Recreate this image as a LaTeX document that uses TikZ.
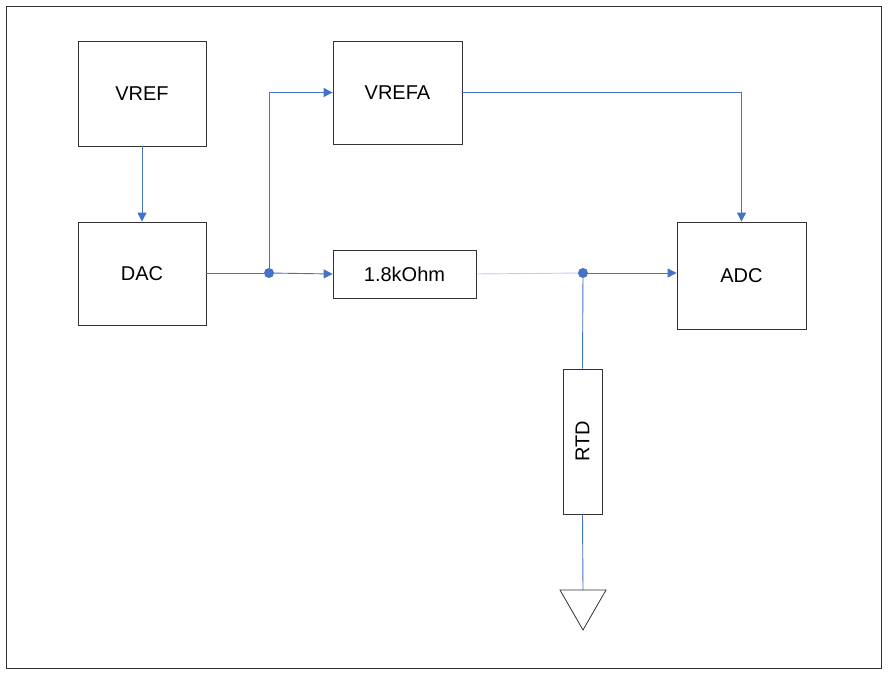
\documentclass[tikz,border=0pt]{standalone}
\usepackage{fontspec}
\setmainfont{Liberation Sans}
\usetikzlibrary{arrows.meta}
\begin{document}
\begin{tikzpicture}[x=1pt,y=-1pt,
  box/.style={draw=black!80,line width=0.8pt,inner sep=0pt,font=\fontsize{20}{22}\selectfont},
  wire/.style={draw={rgb,255:red,68;green,114;blue,196},line width=0.9pt},
  arr/.style={wire,-{Triangle[length=9pt,width=9pt]}},
  dot/.style={circle,fill={rgb,255:red,68;green,114;blue,196},inner sep=0pt,minimum size=10pt}]
\useasboundingbox (0,0) rectangle (889,677);
\draw[black!80,line width=0.8pt] (6,6) rectangle (881,668);
\node[box,minimum width=128pt,minimum height=105pt] (vref) at (142,93.5) {VREF};
\node[box,minimum width=128pt,minimum height=103pt] (dac) at (142,273.5) {DAC};
\node[box,minimum width=129pt,minimum height=103pt] (vrefa) at (397.5,92.5) {VREFA};
\node[box,minimum width=143pt,minimum height=48pt] (res) at (404.5,274) {1.8kOhm};
\node[box,minimum width=129pt,minimum height=107pt] (adc) at (741.5,275.5) {ADC};
\node[box,minimum width=145pt,minimum height=39pt,rotate=90] (rtd) at (582.5,441.5) {RTD};
\node[dot] (d1) at (269,273) {};
\node[dot] (d2) at (583,273) {};
\coordinate (g) at (583,590);
\draw[arr] (vref.south) -- (dac.north);
\draw[wire] (dac.east |- d1) -- (d1);
\draw[arr] (d1) -- (res.west);
\draw[arr] (d1) |- (vrefa.west);
\draw[arr] (vrefa.east) -| (adc.north);
\draw[wire,draw opacity=0.35] (res.east) -- (d2);
\draw[arr] (d2) -- (adc.west |- d2);
\draw[wire] (d2) -- (rtd.east);
\draw[wire] (rtd.west) -- (g);
\draw[black!80,line width=0.8pt] (560,590) -- (606,590) -- (583,630) -- cycle;
\end{tikzpicture}
\end{document}
